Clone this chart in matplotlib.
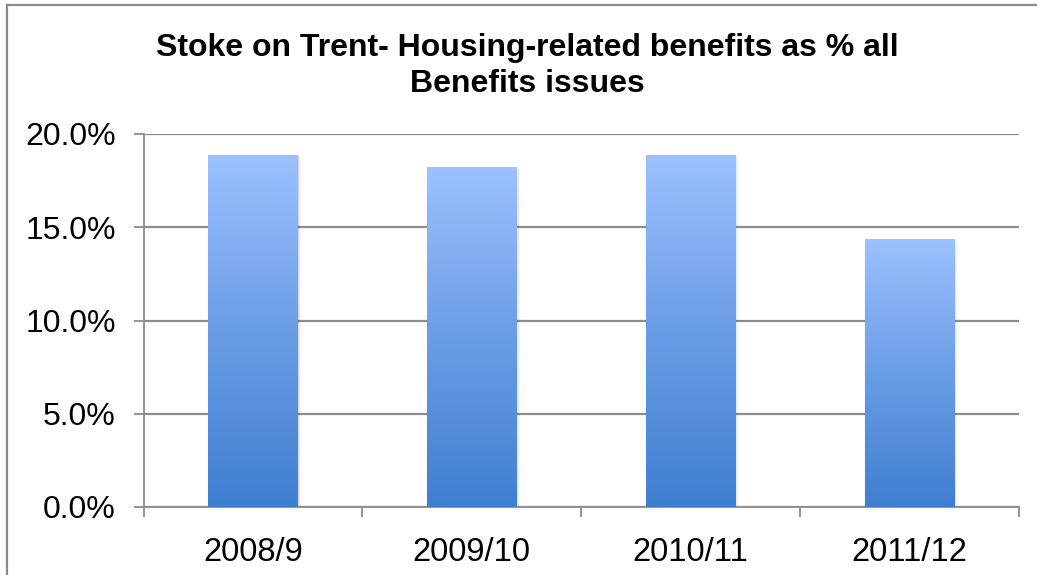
import numpy as np
import matplotlib
matplotlib.use("Agg")
import matplotlib.pyplot as plt
from matplotlib.lines import Line2D
from matplotlib.patches import Rectangle
from matplotlib.ticker import PercentFormatter
from matplotlib.colors import LinearSegmentedColormap

# Data
years = ["2008/9", "2009/10", "2010/11", "2011/12"]
housing_share = [18.9, 18.25, 18.9, 14.35]   # % of all benefits issues
y_ticks = [0, 5, 10, 15, 20]

title = "Stoke on Trent- Housing-related benefits as % all\nBenefits issues"

plt.rcParams["font.family"] = ["Liberation Sans", "DejaVu Sans"]

W, H, DPI = 1037, 575, 100
fig = plt.figure(figsize=(W / DPI, H / DPI), dpi=DPI)
fig.patch.set_facecolor("white")

ax = fig.add_axes([143.5 / W, 1 - 507 / H, (1019 - 143.5) / W, (507 - 134) / H])
ax.set_facecolor("white")

grid_col = "#8c8c8c"
x = np.arange(len(years))
bar_w = 0.407

bars = ax.bar(x, housing_share, width=bar_w, color="none", edgecolor="none", zorder=3)

# soft drop shadow and vertical gradient fill for each bar
grad = LinearSegmentedColormap.from_list("bargrad", ["#3f7fd0", "#6a9de6", "#9cc1ff"])
gradient = np.linspace(0, 1, 256).reshape(-1, 1)
for b in bars:
    x0, y0 = b.get_x(), b.get_y()
    w, h = b.get_width(), b.get_height()
    for i, a in enumerate([0.08, 0.05, 0.03]):
        dx = 0.005 * (i + 1)
        dy = 0.05 * (i + 1)
        ax.add_patch(Rectangle((x0 - dx * 0.2, y0 - dy), w + dx * 1.2, h, facecolor="black",
                               alpha=a, edgecolor="none", zorder=2.5))
    im = ax.imshow(gradient, extent=[x0, x0 + w, y0, y0 + h], origin="lower",
                   cmap=grad, aspect="auto", zorder=3)
    im.set_clip_path(b)

ax.set_xlim(-0.5, len(years) - 0.5)
ax.set_ylim(0, 20)

ax.set_yticks(y_ticks)
ax.yaxis.set_major_formatter(PercentFormatter(decimals=1))
ax.yaxis.grid(True, color=grid_col, linewidth=1.6, zorder=1)
ax.set_axisbelow(True)

ax.set_xticks(x)
ax.set_xticklabels(years)
ax.set_xticks(np.arange(len(years) + 1) - 0.5, minor=True)
ax.tick_params(axis="x", which="major", length=0, pad=21.5, labelsize=23.5)
ax.tick_params(axis="x", which="minor", length=7, width=1.3, color=grid_col, direction="out")
ax.tick_params(axis="y", which="major", length=7, width=1.3, color=grid_col, direction="out",
               pad=13, labelsize=23)

for s in ["top", "right"]:
    ax.spines[s].set_visible(False)
for s in ["left", "bottom"]:
    ax.spines[s].set_color(grid_col)
    ax.spines[s].set_linewidth(1.3)

fig.text(527 / W, 1 - 66 / H, title, ha="center", va="center", fontsize=23,
         fontweight="bold", linespacing=1.25)

# chart border
frame_kw = dict(color="#8a8a8a", linewidth=1.6, transform=fig.transFigure)
fig.add_artist(Line2D([7 / W, 1], [1 - 5 / H, 1 - 5 / H], **frame_kw))
fig.add_artist(Line2D([7 / W, 7 / W], [1 - 5 / H, 0], **frame_kw))

fig.savefig("out.png", dpi=DPI, facecolor="white")
